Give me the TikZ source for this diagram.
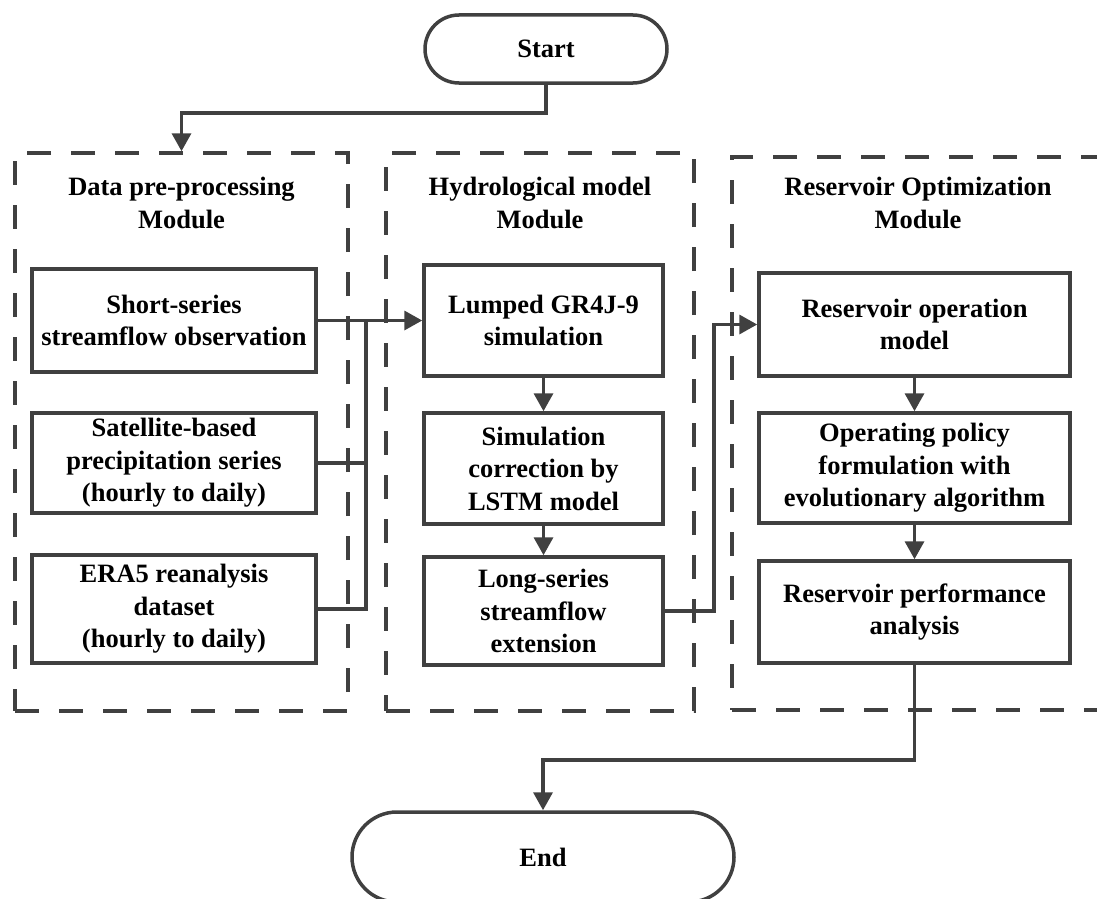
\documentclass[tikz,border=0pt]{standalone}
\usepackage{fontspec}
\setmainfont{Liberation Serif}
\usetikzlibrary{arrows.meta}
\definecolor{linegray}{HTML}{404040}
\begin{document}
\begin{tikzpicture}[x=1pt,y=-1pt,
    every node/.style={font=\fontsize{26.5}{32.5}\selectfont\bfseries,align=center,text=black},
    box/.style={draw=linegray,line width=3.5pt,rectangle,inner sep=0pt},
    terminal/.style={box,minimum width=#1},
    module/.style={draw=linegray,line width=3.5pt,dash pattern=on 24pt off 20pt,inner sep=0pt},
    title/.style={inner sep=0pt},
    ->/.style={-{Triangle[length=18pt,width=19pt]}},
    line/.style={draw=linegray,line width=3.5pt}]
  \useasboundingbox (0,0) rectangle (1097,899);
  \draw
    (546,49) node[terminal=242,minimum height=68,rounded corners=34pt] (start){Start}
    (543,857) node[terminal=382,minimum height=90,rounded corners=45pt] (end){End};
  \draw
    (181.5,432) node[module,minimum width=333,minimum height=558] (dp){}
    (540,432) node[module,minimum width=308,minimum height=558] (hm){}
    (918,433.5) node[module,minimum width=372,minimum height=553] (ro){};
  \draw
    (181.5,203) node[title] (dpt){Data pre-processing\\Module}
    (540,203) node[title] (hmt){Hydrological model\\Module}
    (918,203) node[title] (rot){Reservoir Optimization\\Module};
  \draw
    (174,320.5) node[box,minimum width=284,minimum height=103] (d1){Short-series\\streamflow observation}
    (174,463) node[box,minimum width=284,minimum height=100] (d2){Satellite-based\\precipitation series\\(hourly to daily)}
    (174,609) node[box,minimum width=284,minimum height=108] (d3){ERA5 reanalysis\\dataset\\(hourly to daily)}
    (543.5,320.5) node[box,minimum width=239,minimum height=111] (h1){Lumped GR4J-9\\simulation}
    (543.5,468.5) node[box,minimum width=239,minimum height=111] (h2){Simulation\\correction by\\LSTM model}
    (543.5,611) node[box,minimum width=239,minimum height=108] (h3){Long-series\\streamflow\\extension}
    (914.5,324.5) node[box,minimum width=311,minimum height=103] (r1){Reservoir operation\\model}
    (914.5,468) node[box,minimum width=311,minimum height=110] (r2){Operating policy\\formulation with\\evolutionary algorithm}
    (914.5,612) node[box,minimum width=311,minimum height=102] (r3){Reservoir performance\\analysis};
  \coordinate (a) at (546,113);
  \coordinate (j) at (366,320.5);
  \coordinate (k) at (714,611);
  \coordinate (m) at (914.5,760);
  \begin{scope}[line]
    \draw[->] (start) -- (a) -| (dp.north);
    \draw[->] (d1) -- (h1);
    \draw (d2) -| (j);
    \draw (d3) -| (j);
    \draw[->] (h1) -- (h2);
    \draw[->] (h2) -- (h3);
    \draw[->] (h3) -- (k) |- (r1);
    \draw[->] (r1) -- (r2);
    \draw[->] (r2) -- (r3);
    \draw[->] (r3) -- (m) -| (end);
  \end{scope}
\end{tikzpicture}
\end{document}
